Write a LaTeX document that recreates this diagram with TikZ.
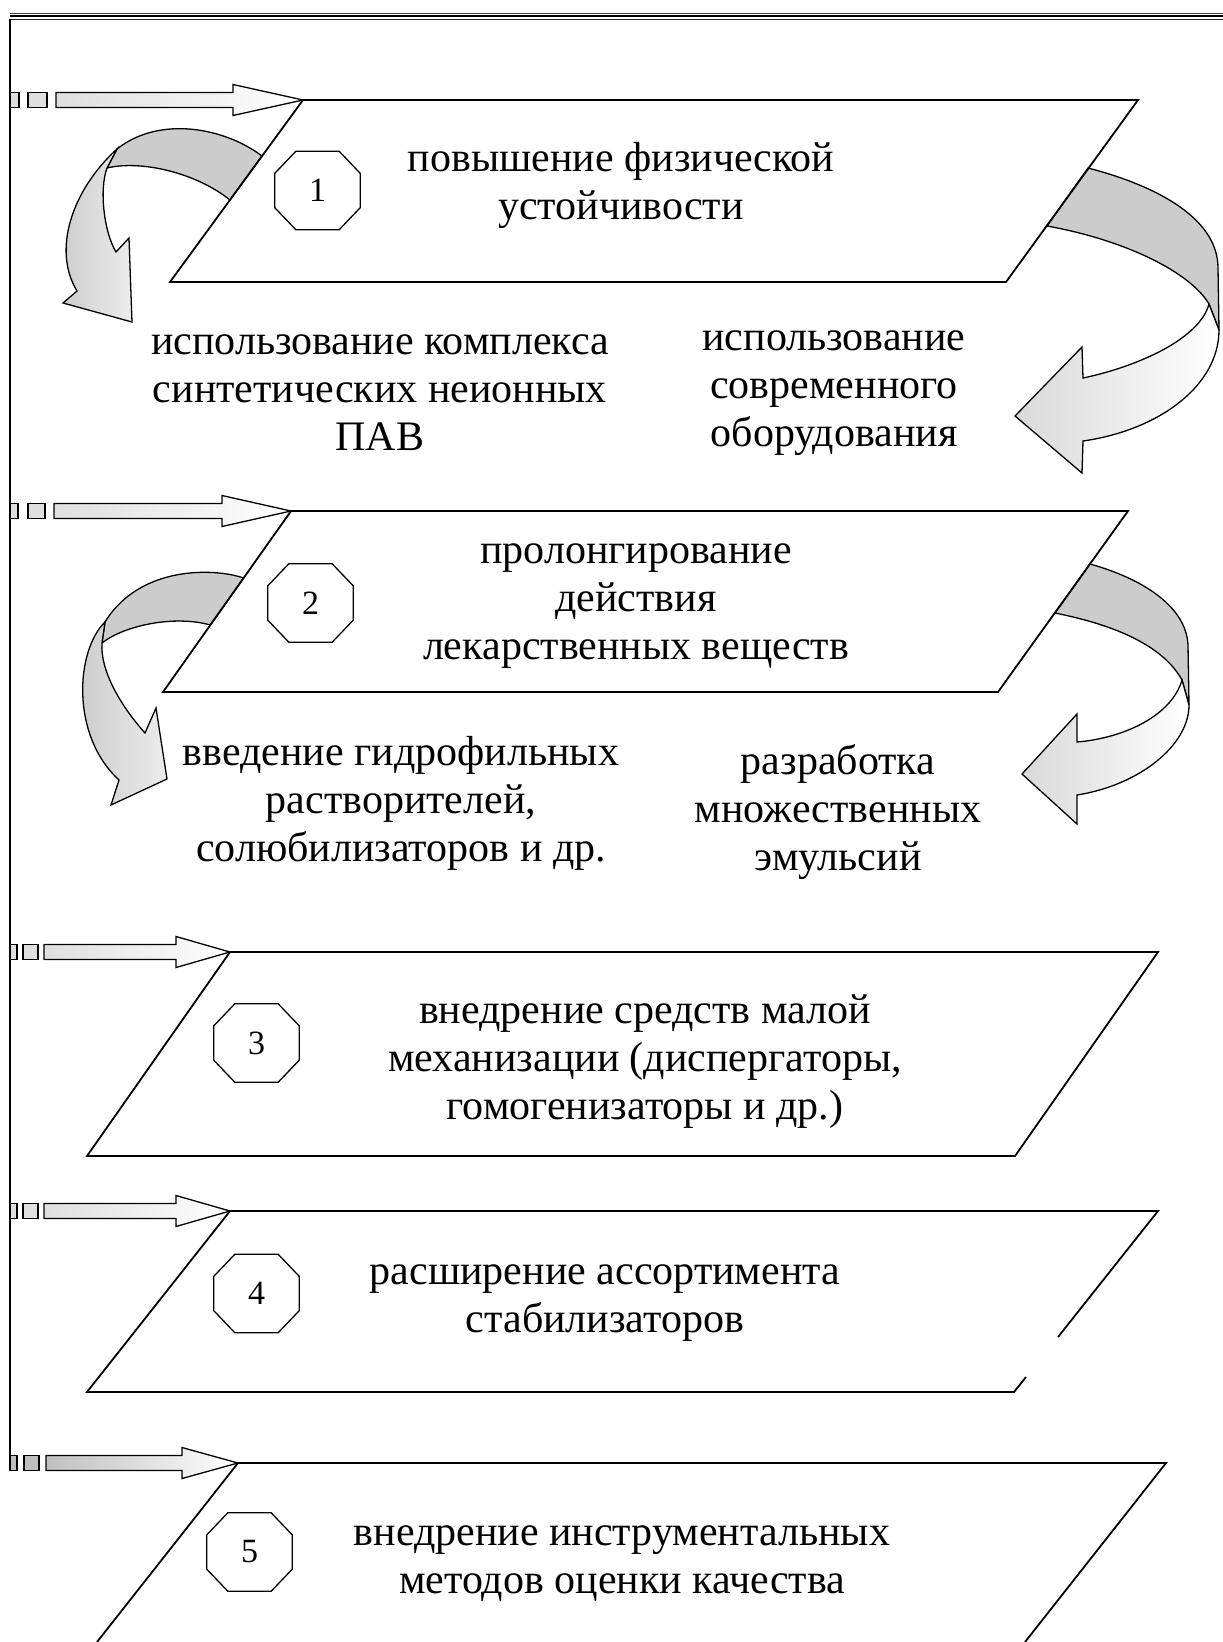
\documentclass[tikz,border=0pt]{standalone}
\usepackage{fontspec}
\setmainfont{Liberation Serif}
\usetikzlibrary{calc}
\newcommand\sidearrow[9]{%
  \draw[hsq, fill=#9] (#2,#1-7.5) rectangle (#3,#1+7.5);
  \draw[hsq, fill=#9] (#4,#1-7.5) rectangle (#5,#1+7.5);
  \draw[harrow, left color=#9] (#6,#1-7.5) -- (#7,#1-7.5) -- (#7,#1-15.5) -- (#8) -- (#7,#1+15.5) -- (#7,#1+7.5) -- (#6,#1+7.5) -- cycle;
}
\newcommand\octnode[3]{%
  \node[oct] (#1) at (#2) {#3};
  \draw[line width=1.3pt] ([xshift=21pt]#1.north west) -- ([xshift=-21pt]#1.north east) -- ([yshift=-22pt]#1.north east) -- ([yshift=22pt]#1.south east) -- ([xshift=-21pt]#1.south east) -- ([xshift=21pt]#1.south west) -- ([yshift=22pt]#1.south west) -- ([yshift=-22pt]#1.north west) -- cycle;
}
\tikzset{
  para/.style={line width=1.8pt, line join=miter},
  harrow/.style={draw, line width=1.3pt, left color=gray!25, right color=white},
  hsq/.style={draw, line width=1.3pt},
  band/.style={draw, line width=1.3pt, fill=gray!40, line join=round},
  bandgrad/.style={draw, line width=1.3pt, left color=gray!42, right color=gray!15, line join=miter},
  bandgradr/.style={draw, line width=1.3pt, left color=gray!30, right color=white, line join=miter},
  txt/.style={align=center, font=\fontsize{42}{48}\selectfont, inner sep=0pt},
  oct/.style={minimum width=85pt, minimum height=78pt, inner sep=0pt, font=\fontsize{34}{40}\selectfont},
}
\begin{document}
\begin{tikzpicture}[x=1pt,y=-1pt]
\useasboundingbox (0,0) rectangle (1223,1642);
% top border and left rule
\draw[line width=1pt, black!75] (10,13.2) -- (1223,13.2);
\draw[line width=2.6pt] (10,16) -- (1223,16);
\draw[line width=1.1pt, black!85] (10,19.3) -- (1223,19.3);
% parallelogram corners
\coordinate (p1tl) at (303,100);  \coordinate (p1tr) at (1138,100);
\coordinate (p1br) at (1006,282); \coordinate (p1bl) at (170,282);
\coordinate (p2tl) at (291,511);  \coordinate (p2tr) at (1128,511);
\coordinate (p2br) at (998,692);  \coordinate (p2bl) at (163,692);
\coordinate (p3tl) at (230,952);  \coordinate (p3tr) at (1158,952);
\coordinate (p3br) at (1015,1156);\coordinate (p3bl) at (87,1156);
\coordinate (p4tl) at (230,1211); \coordinate (p4tr) at (1158,1211);
\coordinate (p4br) at (1014,1392);\coordinate (p4bl) at (87,1392);
\coordinate (p4ga) at (1058,1337);\coordinate (p4gb) at (1026,1377);
\coordinate (p5tl) at (238,1463); \coordinate (p5tr) at (1166,1463);
\coordinate (p5br) at (1025,1642);\coordinate (p5bl) at (97,1642);
% curved arrows, block 1
\draw[band] (262,156) .. controls (225,128) and (160,115) .. (117,149) -- (107,168) .. controls (140,160) and (195,172) .. (230,200) -- cycle;
\draw[bandgrad] (117,149) .. controls (72,190) and (52,250) .. (77,291) -- (63,303) -- (132,322) -- (129,238) -- (116,252) .. controls (104,232) and (99,190) .. (107,168) -- cycle;
\draw[band] (1088,168) .. controls (1165,188) and (1218,222) .. (1218,268) -- (1219,330) -- (1209,304) .. controls (1190,272) and (1125,240) .. (1047,226) -- cycle;
\draw[bandgradr] (1083,378) .. controls (1140,366) and (1200,338) .. (1209,304) -- (1219,330) .. controls (1219,385) and (1160,430) .. (1083,441) -- (1082,473) -- (1015,416) -- (1082,347) -- cycle;
% curved arrows, block 2
\draw[band] (243.6,578) .. controls (215,568) and (140,565) .. (105,622) -- (102,643) .. controls (125,625) and (175,615) .. (210.4,625) -- cycle;
\draw[bandgrad] (105,622) .. controls (76,650) and (70,735) .. (119,780) -- (111,805) -- (167,779) -- (156,708) -- (145,733) .. controls (120,705) and (100,670) .. (102,643) -- cycle;
\draw[band] (1090,564) .. controls (1140,578) and (1186,605) .. (1188,645) -- (1189,705) -- (1182,680) .. controls (1160,640) and (1100,622) .. (1055,613) -- cycle;
\draw[bandgradr] (1077,742) .. controls (1125,738) and (1172,715) .. (1182,680) -- (1189,705) .. controls (1189,745) and (1140,785) .. (1077,795) -- (1077,824) -- (1022,774) -- (1077,714) -- cycle;
% parallelograms
\draw[para] (p1tl) -- (p1tr) -- (p1br) -- (p1bl) -- cycle;
\draw[para] (p2tl) -- (p2tr) -- (p2br) -- (p2bl) -- cycle;
\draw[para] (p3tl) -- (p3tr) -- (p3br) -- (p3bl) -- cycle;
\draw[para] (p4ga) -- (p4tr) -- (p4tl) -- (p4bl) -- (p4br) -- (p4gb);
\draw[para] (p5bl) -- (p5tl) -- (p5tr) -- (p5br);
% side arrows
\sidearrow{100}{10}{19}{28}{47}{56}{233}{p1tl}{gray!25}
\sidearrow{511}{10}{18}{28}{45}{54}{222}{p2tl}{gray!25}
\sidearrow{952}{10}{17}{23}{38}{44}{176}{p3tl}{gray!25}
\sidearrow{1211}{10}{17}{23}{38}{44}{176}{p4tl}{gray!25}
\sidearrow{1463}{10}{17}{24}{39}{46}{182}{p5tl}{gray!50}
\draw[line width=1.5pt] (10,19.2) -- (10,1455.5);
% octagons
\octnode{o1}{317.5,190.5}{1}
\octnode{o2}{310.5,603}{2}
\octnode{o3}{256.5,1043}{3}
\octnode{o4}{256.5,1293.5}{4}
\octnode{o5}{249.5,1552}{5}
% texts
\node[txt] (t1) at (621,185) {повышение физической\\устойчивости};
\node[txt] (tA) at (380,393) {использование комплекса\\синтетических неионных\\ПАВ};
\node[txt] (tB) at (834,393) {использование\\современного\\оборудования};
\node[txt] (t2) at (636,606) {пролонгирование\\действия\\лекарственных веществ};
\node[txt] (tC) at (401,803) {введение гидрофильных\\растворителей,\\солюбилизаторов и др.};
\node[txt] (tD) at (838,812) {разработка\\множественных\\эмульсий};
\node[txt] (t3) at (645,1062) {внедрение средств малой\\механизации (диспергаторы,\\гомогенизаторы и др.)};
\node[txt] (t4) at (605,1303) {расширение ассортимента\\стабилизаторов};
\node[txt] (t5) at (622,1564) {внедрение инструментальных\\методов оценки качества};
\end{tikzpicture}
\end{document}
